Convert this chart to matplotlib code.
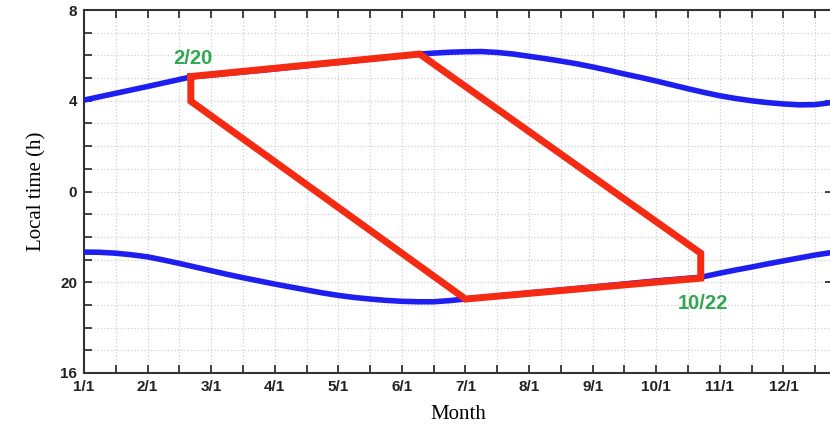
import numpy as np
import matplotlib.pyplot as plt
from matplotlib.ticker import MultipleLocator, FixedLocator

# x: months since 1/1, y: local hour relative to midnight (negative = previous evening)
month_labels = ["1/1", "2/1", "3/1", "4/1", "5/1", "6/1", "7/1", "8/1", "9/1", "10/1", "11/1", "12/1"]
hour_ticks = [-8, -4, 0, 4, 8]
hour_labels = ["16", "20", "0", "4", "8"]

upper_x = [0.0, 0.5, 1.0, 1.68, 3.0, 4.0, 5.0, 5.28, 5.5, 5.75, 6.0, 6.25, 6.5, 6.75,
           7.0, 7.25, 7.5, 7.75, 8.0, 8.25, 8.5, 8.75, 9.0, 9.25, 9.5, 9.75,
           10.0, 10.25, 10.5, 10.75, 11.0, 11.25, 11.5, 11.78]
upper_y = [4.03, 4.33, 4.63, 5.05, 5.40, 5.69, 5.98, 6.06, 6.10, 6.14, 6.16, 6.17, 6.13, 6.06,
           5.96, 5.86, 5.75, 5.63, 5.49, 5.34, 5.18, 5.03, 4.87, 4.70, 4.53, 4.37,
           4.22, 4.10, 4.00, 3.92, 3.86, 3.82, 3.83, 3.93]

lower_x = [0.0, 0.25, 0.5, 0.75, 1.0, 1.25, 1.5, 1.75, 2.0, 2.25, 2.5, 2.75, 3.0, 3.25,
           3.5, 3.75, 4.0, 4.25, 4.5, 4.75, 5.0, 5.25, 5.5, 5.75, 6.0, 7.0, 8.0, 9.0,
           9.7, 10.0, 10.25, 10.5, 10.75, 11.0, 11.25, 11.5, 11.78]
lower_y = [-2.67, -2.68, -2.72, -2.79, -2.88, -3.02, -3.17, -3.33, -3.49, -3.65, -3.80, -3.94, -4.08, -4.21,
           -4.34, -4.47, -4.58, -4.67, -4.74, -4.80, -4.84, -4.86, -4.86, -4.81, -4.74, -4.47, -4.21, -3.94,
           -3.78, -3.60, -3.46, -3.33, -3.19, -3.06, -2.93, -2.80, -2.68]

# observation window outline: 2/20 -> 6/9 -> 10/22 -> 7/1 -> back to 2/20
window_x = [1.68, 5.28, 9.7, 9.7, 6.0, 1.68, 1.68]
window_y = [5.07, 6.06, -2.72, -3.82, -4.74, 3.98, 5.07]

fig = plt.figure(figsize=(8.3, 4.25), dpi=100)
ax = fig.add_axes([0.1012, 0.1224, 0.9024, 0.854])

ax.plot(upper_x, upper_y, color="#1e1ef0", lw=4, solid_capstyle="butt", zorder=3)
ax.plot(lower_x, lower_y, color="#1e1ef0", lw=4, solid_capstyle="butt", zorder=3)
ax.plot(window_x, window_y, color="#f52a12", lw=5, solid_joinstyle="miter", zorder=4)

green = "#2fa84f"
ax.text(1.71, 5.85, "2/20", color=green, fontsize=14.5, fontweight="bold",
        family="Liberation Sans", ha="center", va="center")
ax.text(9.73, -4.93, "10/22", color=green, fontsize=14.5, fontweight="bold",
        family="Liberation Sans", ha="center", va="center")

ax.set_xlim(0, 11.78)
ax.set_ylim(-8, 8)
ax.xaxis.set_major_locator(FixedLocator(range(12)))
ax.set_xticklabels(month_labels)
ax.xaxis.set_minor_locator(MultipleLocator(0.5))
ax.yaxis.set_major_locator(FixedLocator(hour_ticks))
ax.set_yticklabels(hour_labels)
ax.yaxis.set_minor_locator(MultipleLocator(1))

ax.tick_params(which="both", direction="in", length=6, width=1.3, color="#333333",
               top=True, bottom=True, left=True, right=False)
ax.tick_params(which="major", right=True)
ax.tick_params(axis="both", labelsize=11, labelcolor="#222222", pad=5)
for lab in ax.get_xticklabels() + ax.get_yticklabels():
    lab.set_family("Liberation Sans")
    lab.set_fontweight("bold")

ax.grid(which="both", color="#c8c8c8", lw=0.8, ls=(0, (1, 2)))
ax.set_axisbelow(True)
for s in ax.spines.values():
    s.set_color("#333333")
    s.set_linewidth(1.5)

ax.set_xlabel("Month", family="Liberation Serif", fontsize=15, labelpad=8)
ax.set_ylabel("Local time (h)", family="Liberation Serif", fontsize=15, labelpad=10)

fig.savefig("out.png", dpi=100)
